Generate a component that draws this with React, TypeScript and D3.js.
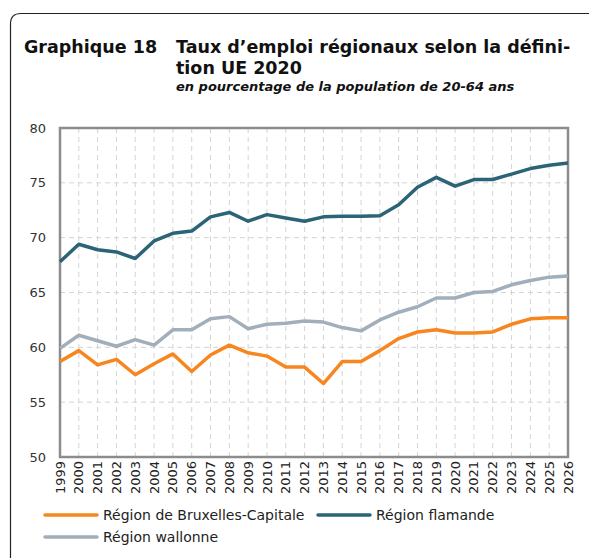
import React from "react";
import * as d3 from "d3";

const years = d3.range(1999, 2027);
const bruxelles = [58.7, 59.7, 58.4, 58.9, 57.5, 58.5, 59.4, 57.8, 59.3, 60.2, 59.5, 59.2, 58.2, 58.2, 56.7, 58.7, 58.7, 59.7, 60.8, 61.4, 61.6, 61.3, 61.3, 61.4, 62.1, 62.6, 62.7, 62.7];
const flamande = [67.8, 69.4, 68.9, 68.7, 68.1, 69.7, 70.4, 70.6, 71.9, 72.3, 71.5, 72.1, 71.8, 71.5, 71.9, 71.95, 71.95, 72.0, 73.0, 74.6, 75.5, 74.7, 75.3, 75.3, 75.8, 76.3, 76.6, 76.8];
const wallonne = [59.9, 61.1, 60.6, 60.1, 60.7, 60.2, 61.6, 61.6, 62.6, 62.8, 61.7, 62.1, 62.2, 62.4, 62.3, 61.8, 61.5, 62.5, 63.2, 63.7, 64.5, 64.5, 65.0, 65.1, 65.7, 66.1, 66.4, 66.5];
const yTicks = [50, 55, 60, 65, 70, 75, 80];

const series = [
  { name: "Région de Bruxelles-Capitale", values: bruxelles, color: "#F7861F" },
  { name: "Région flamande", values: flamande, color: "#2B6377" },
  { name: "Région wallonne", values: wallonne, color: "#A3AEBB" },
];

const FONT = "'DejaVu Sans', sans-serif";

export default function App() {
  const W = 589, H = 558;
  const x = d3.scaleLinear().domain([1999, 2026]).range([60, 568]);
  const y = d3.scaleLinear().domain([50, 80]).range([457, 128]);
  const line = d3.line<number>().x((_, i) => x(years[i])).y((d) => y(d));

  return (
    <svg width={W} height={H} style={{ position: "absolute", left: 0, top: 0 }} fontFamily={FONT}>
      <rect x={0} y={0} width={W} height={H} fill="#fff" />
      <path d={`M10.5,${H} L10.5,24 Q10.5,13.5 21,13.5 L${W},13.5`} fill="none" stroke="#222" strokeWidth={1.2} />
      <text x={24} y={53} fontSize={17.5} fontWeight="bold" fill="#111">Graphique 18</text>
      <text x={176} y={53} fontSize={17.5} fontWeight="bold" fill="#111">Taux d’emploi régionaux selon la défini-</text>
      <text x={176} y={74} fontSize={17.5} fontWeight="bold" fill="#111">tion UE 2020</text>
      <text x={176} y={91} fontSize={13} fontWeight="bold" fontStyle="italic" fill="#111">en pourcentage de la population de 20-64 ans</text>

      {yTicks.map((t) => (
        <line key={"gy" + t} x1={x(1999)} x2={x(2026)} y1={y(t)} y2={y(t)} stroke="#d4d4d4" strokeDasharray="5,4" />
      ))}
      {years.map((yr) => (
        <line key={"gx" + yr} x1={x(yr)} x2={x(yr)} y1={y(50)} y2={y(80)} stroke="#d4d4d4" strokeDasharray="5,4" />
      ))}
      <rect x={x(1999)} y={y(80)} width={x(2026) - x(1999)} height={y(50) - y(80)} fill="none" stroke="#8c8c8c" strokeWidth={2.5} />

      {yTicks.map((t) => (
        <text key={"ty" + t} x={46} y={y(t)} dy="0.35em" textAnchor="end" fontSize={13} fill="#333">{t}</text>
      ))}
      {years.map((yr) => (
        <text key={"tx" + yr} transform={`translate(${x(yr)},${y(50) + 4}) rotate(-90)`} dy="0.35em" textAnchor="end" fontSize={13} fill="#222">{yr}</text>
      ))}

      {series.map((s) => (
        <path key={s.name} d={line(s.values) || ""} fill="none" stroke={s.color} strokeWidth={3.5} strokeLinejoin="round" />
      ))}

      {[
        { s: series[0], lx: 45, ly: 515 },
        { s: series[1], lx: 318, ly: 515 },
        { s: series[2], lx: 45, ly: 537 },
      ].map(({ s, lx, ly }) => (
        <g key={"lg" + s.name}>
          <line x1={lx} x2={lx + 52} y1={ly} y2={ly} stroke={s.color} strokeWidth={3.5} strokeLinecap="round" />
          <text x={lx + 58} y={ly} dy="0.35em" fontSize={14} fill="#222">{s.name}</text>
        </g>
      ))}
    </svg>
  );
}
